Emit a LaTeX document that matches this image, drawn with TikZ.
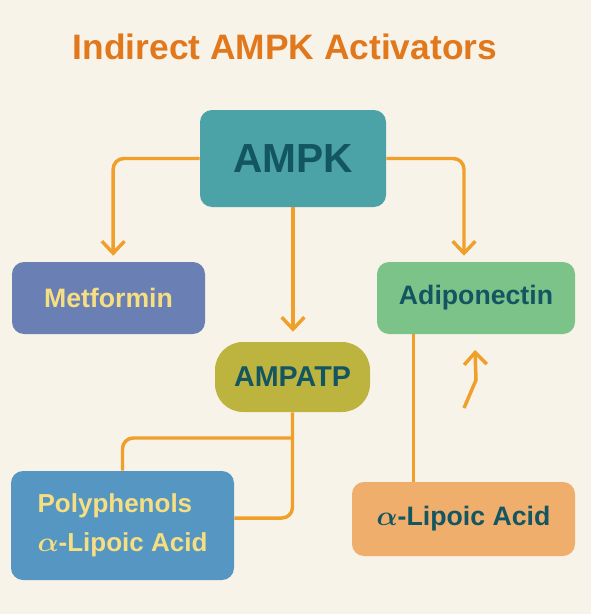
\documentclass[tikz,border=0pt]{standalone}
\usepackage{amsmath}
\usepackage{fontspec}
\setmainfont{Liberation Sans}
\usetikzlibrary{arrows.meta}
\definecolor{paper}{HTML}{F8F3E8}
\definecolor{titlec}{HTML}{E2781C}
\definecolor{arrowc}{HTML}{F0A02A}
\definecolor{darkteal}{HTML}{135661}
\definecolor{paleyel}{HTML}{F6DE82}
\definecolor{ampkc}{HTML}{4BA3A8}
\definecolor{metc}{HTML}{6A80B4}
\definecolor{adipoc}{HTML}{7BC389}
\definecolor{atpc}{HTML}{BDB43F}
\definecolor{polyc}{HTML}{5597C2}
\definecolor{lipoc}{HTML}{EFAE6C}
\tikzset{
	box/.style={rounded corners=9pt, inner sep=0pt, font=\bfseries\fontsize{20}{24}\selectfont},
	link/.style={draw=arrowc, line width=2.6pt, rounded corners=8pt},
	flow/.style={link, -{Straight Barb[length=9pt, width=17pt]}},
}
\begin{document}
\begin{tikzpicture}[x=0.75pt, y=-0.75pt]
	\fill[paper] (0,0) rectangle (591,614);
	\useasboundingbox (0,0) rectangle (591,614);
	\node[text=titlec, font=\bfseries\fontsize{26.5}{30}\selectfont] (title) at (285,47) {Indirect AMPK Activators};
	% boxes
	\node[box, fill=ampkc, text=darkteal, minimum width=139.5pt, minimum height=72.75pt, font=\bfseries\fontsize{30.5}{34}\selectfont] (ampk) at (293,158.5) {AMPK};
	\node[box, fill=metc, text=paleyel, minimum width=144.75pt, minimum height=54pt] (metformin) at (108.5,298) {Metformin};
	\node[box, fill=adipoc, text=darkteal, minimum width=148.5pt, minimum height=54pt] (adipo) at (476,298) {Adiponectin};
	\node[box, fill=atpc, text=darkteal, rounded corners=21pt, minimum width=116.25pt, minimum height=52.5pt, font=\bfseries\fontsize{21.5}{24}\selectfont] (ampatp) at (292.5,377) {AMPATP};
	\node[box, fill=polyc, text=paleyel, minimum width=167.25pt, minimum height=81.75pt, align=left, font=\bfseries\fontsize{19.5}{29}\selectfont] (poly) at (122.5,525.5) {Polyphenols\\$\boldsymbol{\alpha}$-Lipoic Acid};
	\node[box, fill=lipoc, text=darkteal, minimum width=167.25pt, minimum height=55.5pt] (lipoic) at (463.5,519) {$\boldsymbol{\alpha}$-Lipoic Acid};
	% connectors
	\draw[flow, shorten >=4.5pt] (ampk.west) -| ([xshift=3.5pt]metformin.north);
	\draw[flow, shorten >=4.5pt] (ampk.east) -| ([xshift=-9pt]adipo.north);
	\draw[flow, shorten >=7.5pt] (ampk.south) -- (ampk.south |- ampatp.north);
	\draw[link] (ampatp.south) |- ([yshift=5.6pt]poly.east);
	\coordinate (branch) at (ampatp.south |- 0,438);
	\draw[link] (branch) -| (poly.north);
	\draw[link] ([xshift=-47pt]adipo.south) -- ([xshift=-47pt]adipo.south |- lipoic.north);
	\coordinate (tail) at (464,408);
	\coordinate (bend) at (476,380);
	\coordinate (tip) at (475,350);
	\draw[flow, rounded corners=0pt] (tail) -- (bend) -- (tip);
\end{tikzpicture}
\end{document}
